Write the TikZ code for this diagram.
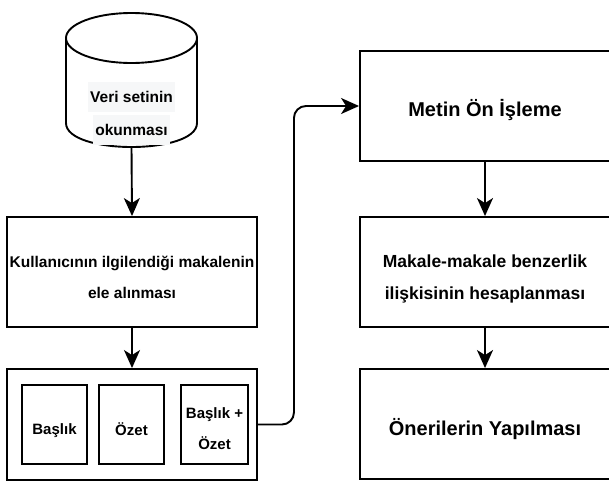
\documentclass[tikz,border=0pt]{standalone}
\usepackage{fontspec}
\setmainfont{Liberation Sans}
\usetikzlibrary{arrows.meta}
\definecolor{lblbg}{RGB}{246,247,248}
\begin{document}
\begin{tikzpicture}[x=1pt,y=-1pt,
  box/.style={draw, line width=1.9pt, inner sep=0pt},
  txt/.style={inner sep=2pt, align=center},
  arr/.style={-{Stealth[length=18pt,width=16pt,inset=5pt]}, line width=1.9pt},
  fA/.style={font=\fontsize{15.5}{31}\selectfont\bfseries},
  fB/.style={font=\fontsize{17.5}{32}\selectfont\bfseries},
  fC/.style={font=\fontsize{20}{24}\selectfont\bfseries},
  fD/.style={font=\fontsize{15}{31}\selectfont\bfseries}]
\useasboundingbox (0,0) rectangle (609,482);
% cylinder
\draw[line width=1.9pt, fill=white] (66,38) -- (66,123) .. controls (66,155) and (197,155) .. (197,123) -- (197,38);
\draw[line width=1.9pt] (131.5,38) ellipse [x radius=65.5, y radius=25];
\node[minimum width=131pt, minimum height=134pt, inner sep=0pt] (ds) at (131.5,80) {};
\node[fA, fill=lblbg, minimum height=30pt, inner xsep=2pt] (ds1) at (131.5,97) {Veri setinin};
\node[fA, fill=lblbg, minimum height=30pt, inner xsep=2pt] (ds2) at (131.5,130) {okunması};
% left boxes
\node[box, minimum width=250pt, minimum height=110pt] (k) at (132,272) {};
\node[txt, fA] (kT) at ([yshift=-5pt]k.center) {Kullanıcının ilgilendiği makalenin\\ele alınması};
\node[box, minimum width=250pt, minimum height=111pt] (cont) at (132,424.5) {};
\node[box, minimum width=65pt, minimum height=79pt] (b1) at (54.5,424.5) {};
\node[txt, fD] (b1T) at ([yshift=-6pt]b1.center) {Başlık};
\node[box, minimum width=65pt, minimum height=79pt] (b2) at (131.5,424.5) {};
\node[txt, fD] (b2T) at ([yshift=-5pt]b2.center) {Özet};
\node[box, minimum width=67pt, minimum height=79pt] (b3) at (214.5,424.5) {};
\node[txt, fD] (b3T) at ([yshift=-4pt]b3.center) {Başlık +\\Özet};
% right boxes
\node[box, minimum width=250pt, minimum height=110pt] (metin) at (485,106) {};
\node[txt, fC] (metinT) at ([yshift=-4pt]metin.center) {Metin Ön İşleme};
\node[box, minimum width=250pt, minimum height=110pt] (mak) at (485,272) {};
\node[txt, fB] (makT) at ([yshift=-7pt]mak.center) {Makale-makale benzerlik\\ilişkisinin hesaplanması};
\node[box, minimum width=250pt, minimum height=110pt] (oner) at (485,424) {};
\node[txt, fC] (onerT) at ([yshift=-5pt]oner.center) {Önerilerin Yapılması};
% connectors
\draw[arr] (ds.south) -- (k.north);
\draw[arr] (k.south) -- (cont.north);
\draw[arr] (metin.south) -- (mak.north);
\draw[arr] (mak.south) -- (oner.north);
\draw[arr, rounded corners=12pt] (cont.east) -- ++(36,0) |- (metin.west);
\end{tikzpicture}
\end{document}
